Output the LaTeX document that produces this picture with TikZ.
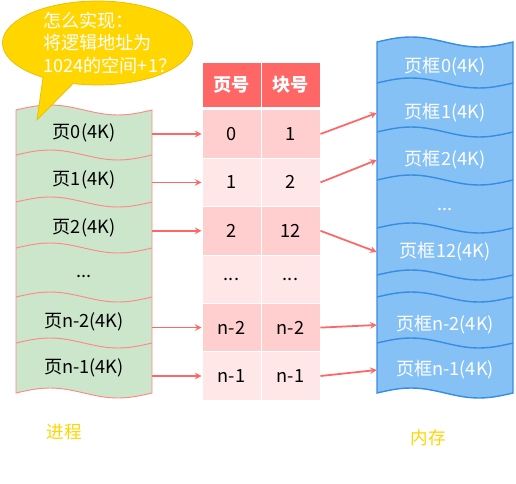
\documentclass[tikz,border=0pt]{standalone}
\usepackage{fontspec}
\setmainfont{Noto Sans CJK SC}
\usepackage{tikz}
\usetikzlibrary{shapes,arrows}
\definecolor{pagegreen}{RGB}{204,230,204}
\definecolor{pagered}{RGB}{255,135,135}
\definecolor{headred}{RGB}{255,102,102}
\definecolor{rowdark}{RGB}{255,206,206}
\definecolor{rowlight}{RGB}{255,231,231}
\definecolor{framefill}{RGB}{133,193,245}
\definecolor{frameline}{RGB}{55,140,228}
\definecolor{bubble}{RGB}{255,214,0}
\definecolor{bubbleline}{RGB}{232,188,0}
\tikzstyle{maparrow} = [line width=1.5pt,->,>=stealth,draw=headred]
\tikzstyle{row} = [minimum width=4.08cm,inner sep=0pt,font=\fontsize{15.5}{18}\selectfont]
\tikzstyle{cell} = [draw=white,line width=0.8pt,minimum width=1.77cm,minimum height=1.452cm,inner sep=0pt,font=\fontsize{15.5}{18}\selectfont]
\tikzstyle{head} = [cell,fill=headred,text=white,minimum height=1.35cm,font=\fontsize{15.5}{18}\selectfont\bfseries]
\tikzstyle{tag} = [text=bubble,font=\fontsize{15}{18}\selectfont]
% one period of a wavy edge, 136 wide
\newcommand{\waveto}{sin ++(34,-5) cos ++(34,5) sin ++(34,5) cos ++(34,-5)}
\newcommand{\waveback}{sin ++(-34,5) cos ++(-34,-5) sin ++(-34,-5) cos ++(-34,5)}

\begin{document}
\begin{tikzpicture}[x=0.03cm,y=-0.03cm]
 \useasboundingbox (0,0) rectangle (516,483);
 % process pages
 \draw[draw=pagered,fill=pagegreen,line width=0.8pt] (16,110) \waveto -- (152,393) \waveback -- cycle;
 \draw[pagered,line width=0.8pt] (16,155) \waveto;
 \draw[pagered,line width=0.8pt] (16,202) \waveto;
 \draw[pagered,line width=0.8pt] (16,248) \waveto;
 \draw[pagered,line width=0.8pt] (16,297) \waveto;
 \draw[pagered,line width=0.8pt] (16,343) \waveto;
 \node[row] (p0) at (84,133) {页0(4K)};
 \node[row] (p1) at (84,180) {页1(4K)};
 \node[row] (p2) at (84,228) {页2(4K)};
 \node[row] (pd) at (84,276) {...};
 \node[row] (pn2) at (84,322) {页n-2(4K)};
 \node[row] (pn1) at (84,368) {页n-1(4K)};

 % memory frames
 \draw[draw=frameline,fill=framefill,line width=1.2pt] (377,42) \waveto -- (513,393) \waveback -- cycle;
 \draw[frameline,line width=1.2pt] (377,83) \waveto;
 \draw[frameline,line width=1.2pt] (377,132) \waveto;
 \draw[frameline,line width=1.2pt] (377,180) \waveto;
 \draw[frameline,line width=1.2pt] (377,228) \waveto;
 \draw[frameline,line width=1.2pt] (377,275) \waveto;
 \draw[frameline,line width=1.2pt] (377,297) \waveto;
 \draw[frameline,line width=1.2pt] (377,343) \waveto;
 \node[row,text=white] (f0) at (445,67) {页框0(4K)};
 \node[row,text=white] (f1) at (445,113) {页框1(4K)};
 \node[row,text=white] (f2) at (445,160) {页框2(4K)};
 \node[row,text=white] (fd) at (445,209) {...};
 \node[row,text=white] (f12) at (445,252) {页框12(4K)};
 \node[row,text=white] (fn2) at (445,325) {页框n-2(4K)};
 \node[row,text=white] (fn1) at (445,370) {页框n-1(4K)};

 % page table
 \node[head] (hp) at (231.5,84.5) {页号};
 \node[head] (hb) at (290.5,84.5) {块号};
 \node[cell,fill=rowdark] (t0) at (231.5,134) {0};
 \node[cell,fill=rowdark] (b0) at (290.5,134) {1};
 \node[cell,fill=rowlight] (t1) at (231.5,182.4) {1};
 \node[cell,fill=rowlight] (b1) at (290.5,182.4) {2};
 \node[cell,fill=rowdark] (t2) at (231.5,230.8) {2};
 \node[cell,fill=rowdark] (b2) at (290.5,230.8) {12};
 \node[cell,fill=rowlight] (td) at (231.5,279.2) {...};
 \node[cell,fill=rowlight] (bd) at (290.5,279.2) {...};
 \node[cell,fill=rowdark] (tn2) at (231.5,327.6) {n-2};
 \node[cell,fill=rowdark] (bn2) at (290.5,327.6) {n-2};
 \node[cell,fill=rowlight] (tn1) at (231.5,376) {n-1};
 \node[cell,fill=rowlight] (bn1) at (290.5,376) {n-1};

 \draw[maparrow] (t0.west -| p0.east) -- (t0.west);
 \draw[maparrow] (t1.west -| p1.east) -- (t1.west);
 \draw[maparrow] (t2.west -| p2.east) -- (t2.west);
 \draw[maparrow] (tn2.west -| pn2.east) -- (tn2.west);
 \draw[maparrow] (tn1.west -| pn1.east) -- (tn1.west);
 \draw[maparrow] (b0.east) -- (f1.west);
 \draw[maparrow] (b1.east) -- (f2.west);
 \draw[maparrow] (b2.east) -- (f12.west);
 \draw[maparrow] (bn2.east) -- (fn2.west);
 \draw[maparrow] (bn1.east) -- (fn1.west);

 % speech bubble
 \coordinate (bc) at (97.5,43);
 \coordinate (tip) at (37,120);
 \draw[fill=bubble,draw=bubbleline,line width=0.6pt] (bc) ++(125:95 and 42) arc[start angle=125,end angle=465,x radius=95,y radius=42] -- (tip) -- cycle;
 \node[anchor=west,align=left,text=white,font=\fontsize{15.5}{19.5}\selectfont] (q) at (39,43) {怎么实现：\\将逻辑地址为\\1024的空间+1？};

 \node[tag] (proc) at (64,432) {进程};
 \node[tag] (mem) at (428,438) {内存};
\end{tikzpicture}
\end{document}
